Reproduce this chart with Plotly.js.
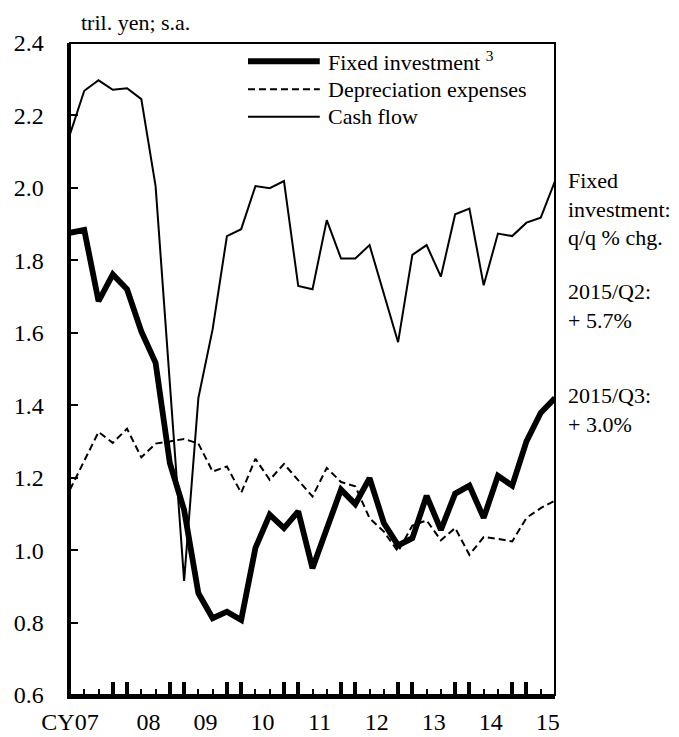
<!DOCTYPE html>
<html>
<head>
<meta charset="utf-8">
<script src="https://cdn.plot.ly/plotly-3.0.1.min.js"></script>
<style>html,body{margin:0;padding:0;background:#fff;}#chart{width:679px;height:737px;}</style>
</head>
<body>
<div id="chart"></div>
<script>
// Quarters 2007Q1 .. 2015Q3
const quarters = ['2007Q1','2007Q2','2007Q3','2007Q4','2008Q1','2008Q2','2008Q3','2008Q4',
  '2009Q1','2009Q2','2009Q3','2009Q4','2010Q1','2010Q2','2010Q3','2010Q4',
  '2011Q1','2011Q2','2011Q3','2011Q4','2012Q1','2012Q2','2012Q3','2012Q4',
  '2013Q1','2013Q2','2013Q3','2013Q4','2014Q1','2014Q2','2014Q3','2014Q4',
  '2015Q1','2015Q2','2015Q3'];

const fixedInvestment = [1.876,1.884,1.687,1.761,1.720,1.604,1.517,1.240,1.111,0.881,
  0.812,0.830,0.807,1.006,1.098,1.061,1.107,0.950,1.059,1.167,
  1.127,1.199,1.075,1.013,1.033,1.150,1.056,1.156,1.178,1.089,
  1.205,1.178,1.300,1.379,1.420];

const depreciation = [1.167,1.245,1.326,1.296,1.335,1.256,1.294,1.300,1.307,1.294,
  1.217,1.231,1.158,1.252,1.194,1.238,1.194,1.148,1.227,1.188,
  1.176,1.088,1.051,0.996,1.068,1.082,1.027,1.061,0.987,1.036,
  1.031,1.024,1.089,1.116,1.137];

const cashFlow = [2.148,2.268,2.297,2.271,2.275,2.245,2.005,1.450,0.915,1.420,
  1.610,1.867,1.886,2.005,1.999,2.019,1.729,1.720,1.911,1.805,
  1.805,1.842,1.708,1.574,1.815,1.842,1.755,1.927,1.943,1.731,
  1.874,1.867,1.904,1.918,2.019];

const yearLabels = ['CY07','08','09','10','11','12','13','14','15'];
const seriesNames = ['Fixed investment <sup>3</sup>','Depreciation expenses','Cash flow'];
const noteLines = ['Fixed<br>investment:<br>q/q % chg.','2015/Q2:<br>+ 5.7%','2015/Q3:<br>+ 3.0%'];
const unitLabel = 'tril. yen; s.a.';

const FONT = '"Liberation Serif", "Times New Roman", Times, "DejaVu Serif", serif';
const xIdx = quarters.map((q, i) => i);
// year boundary ticks (Q4 and Q1 of each year) are long
const bigTicks = xIdx.filter(i => quarters[i].endsWith('Q1') || quarters[i].endsWith('Q4'));
const yearTickVals = yearLabels.map((l, k) => k === 0 ? 0 : 1.5 + 4 * k);

const styles = [
  {color: '#000', width: 5.8, dash: 'solid'},
  {color: '#000', width: 2, dash: '7px,4px'},
  {color: '#000', width: 2, dash: 'solid'}
];
const seriesData = [fixedInvestment, depreciation, cashFlow];

const traces = seriesData.map((ys, s) => ({
  type: 'scatter', mode: 'lines', x: xIdx, y: ys, name: seriesNames[s],
  line: {color: styles[s].color, width: styles[s].width, dash: styles[s].dash},
  showlegend: false, hoverinfo: 'skip'
}));
// anchor trace for the label axis
traces.push({type: 'scatter', mode: 'lines', x: [null], y: [null], xaxis: 'x2', showlegend: false, hoverinfo: 'skip'});

// custom legend
const legX0 = 0.367, legX1 = 0.515, legTextX = 0.528;
const legY = [0.972, 0.929, 0.887];
const shapes = [{type: 'rect', xref: 'paper', yref: 'paper', x0: 0, x1: 1, y0: 0, y1: 1,
  line: {color: '#000', width: 2}, fillcolor: 'rgba(0,0,0,0)'}];
const annotations = [];
seriesNames.forEach((n, s) => {
  shapes.push({type: 'line', xref: 'paper', yref: 'paper', x0: legX0, x1: legX1, y0: legY[s], y1: legY[s],
    line: {color: styles[s].color, width: styles[s].width, dash: styles[s].dash}});
  annotations.push({xref: 'paper', yref: 'paper', x: legTextX, y: legY[s], xanchor: 'left', yanchor: 'middle',
    text: n, showarrow: false, font: {family: FONT, size: 22, color: '#000'}});
});
const noteY = [0.745, 0.596, 0.437];
noteLines.forEach((t, k) => {
  annotations.push({xref: 'paper', yref: 'paper', x: 1.0227, y: noteY[k], xanchor: 'left', yanchor: 'middle',
    align: 'left', text: t, showarrow: false, font: {family: FONT, size: 22, color: '#000'}});
});
annotations.push({xref: 'paper', yref: 'paper', x: 0.0186, y: 1.032, xanchor: 'left', yanchor: 'middle',
  text: unitLabel, showarrow: false, font: {family: FONT, size: 22, color: '#000'}});

const layout = {
  width: 679, height: 737,
  margin: {l: 70, r: 124, t: 43, b: 42, pad: 0},
  paper_bgcolor: '#fff', plot_bgcolor: '#fff',
  font: {family: FONT, size: 24, color: '#000'},
  showlegend: false,
  xaxis: {
    range: [0, 34], showgrid: false, zeroline: false,
    showline: true, linecolor: '#000', linewidth: 3.5,
    tickmode: 'array', tickvals: bigTicks, ticks: 'inside', ticklen: 13, tickwidth: 4, tickcolor: '#000',
    showticklabels: false,
    minor: {tickmode: 'linear', tick0: 0, dtick: 1, ticks: 'inside', ticklen: 6, tickwidth: 2, tickcolor: '#000', showgrid: false}
  },
  xaxis2: {
    overlaying: 'x', side: 'bottom', anchor: 'y', range: [0, 34], showgrid: false, zeroline: false,
    showline: false, tickmode: 'array', tickvals: yearTickVals, ticktext: yearLabels, ticks: '',
    ticklabelstandoff: 10, tickfont: {family: FONT, size: 24, color: '#000'}
  },
  yaxis: {
    range: [0.6, 2.4], dtick: 0.2, tick0: 0.6, tickformat: '.1f', showgrid: false, zeroline: false,
    showline: true, linecolor: '#000', linewidth: 3.5,
    ticks: 'inside', ticklen: 8, tickwidth: 2, tickcolor: '#000',
    ticklabelstandoff: 18, tickfont: {family: FONT, size: 24, color: '#000'}
  },
  shapes: shapes,
  annotations: annotations
};

Plotly.newPlot('chart', traces, layout, {staticPlot: true, displayModeBar: false});
</script>
</body>
</html>
